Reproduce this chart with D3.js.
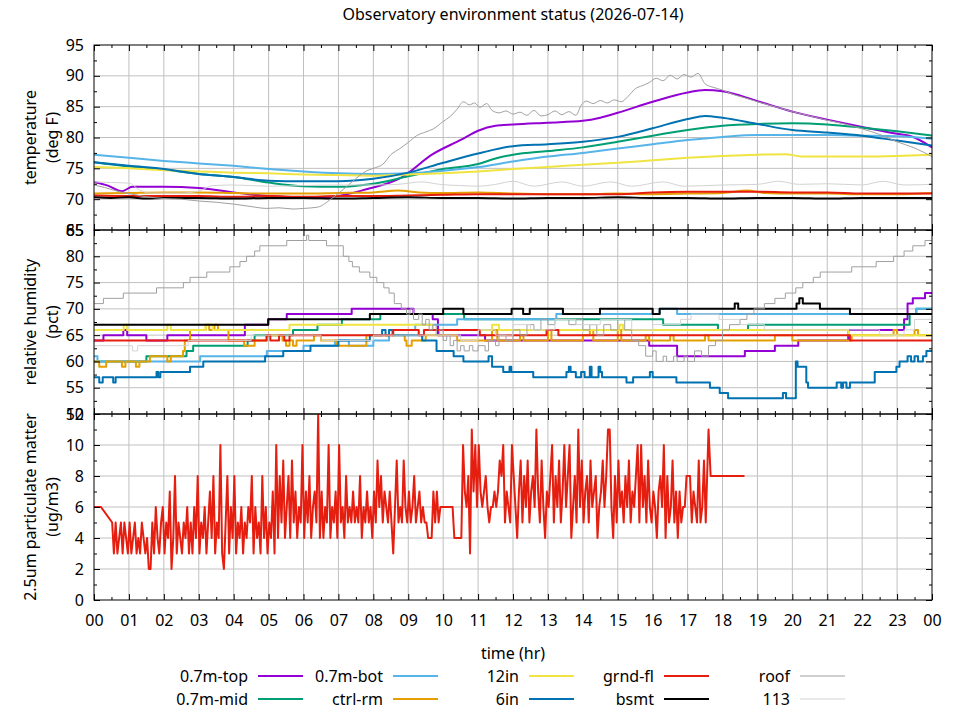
<!DOCTYPE html>
<html>
<head>
<meta charset="utf-8">
<script src="https://cdn.jsdelivr.net/npm/d3@7/dist/d3.min.js"></script>
<style>
  body { margin: 0; background: #fff; }
  text { font-family: "Noto Sans", sans-serif; fill: #000; }
</style>
</head>
<body>
<script>
// ---- tick labels ----
var hourLabels = ["00","01","02","03","04","05","06","07","08","09","10","11","12",
                  "13","14","15","16","17","18","19","20","21","22","23","00"];
var tempTicks = [65, 70, 75, 80, 85, 90, 95];
var rhTicks = [50, 55, 60, 65, 70, 75, 80, 85];
var pmTicks = [0, 2, 4, 6, 8, 10, 12];

// ---- temperature (deg F), [hour, value] ----
var tempTop = [[0,72.8],[0.4,72.2],[0.8,71.3],[1.1,72.0],[2,72.0],[3,71.8],[3.5,71.5],[4,71.1],[5,70.5],[6,70.3],[6.8,70.4],
  [7.8,71.6],[8.8,73.5],[9.7,77.3],[10.5,79.6],[11,81.1],[11.5,81.9],[12,82.1],[13,82.4],[14,82.7],[14.5,83.2],[15,84.0],
  [16,85.8],[17,87.3],[17.5,87.7],[18,87.5],[19,85.9],[20,84.2],[21,82.9],[22,81.7],[23,80.6],[23.4,80.2],[24,78.4]];
var tempMid = [[0,76.0],[1,75.3],[2,74.8],[3,74.1],[4,73.6],[5,72.7],[6,72.1],[7,72.0],[8,72.5],[9,73.7],[10,74.9],[11,75.7],
  [11.5,76.6],[12,77.2],[13,77.8],[14,78.4],[15,79.3],[16,80.3],[17,81.2],[18,81.9],[19,82.2],[20,82.3],[21,82.1],[22,81.6],
  [23,81.0],[24,80.3]];
var tempBot = [[0,77.2],[1,76.7],[2,76.2],[3,75.8],[4,75.4],[5,74.9],[6,74.5],[7,74.2],[8,74.1],[9,74.2],[10,74.6],[11,75.2],
  [12,76.1],[13,76.9],[14,77.5],[15,78.2],[16,78.9],[17,79.6],[18,80.1],[19,80.4],[20,80.4],[21,80.4],[22,80.3],[23,80.2],[24,79.8]];
var tempCtrl = [[0,70.9],[1,71.0],[2,71.1],[3,71.1],[4,71.0],[5,70.9],[6,70.9],[7,71.0],[8,71.1],[8.7,71.4],[9.3,71.1],[10,71.0],
  [11,71.1],[12,70.9],[13,70.8],[14,70.8],[15,70.9],[16,70.8],[17,70.9],[18,71.0],[18.7,71.4],[19.2,71.0],[20,70.9],[21,70.9],
  [22,70.8],[23,70.8],[24,71.0]];
var temp12in = [[0,75.2],[1,75.0],[2,74.7],[3,74.5],[4,74.3],[5,74.2],[6,74.0],[7,73.9],[8,73.8],[9,74.0],[10,74.2],[11,74.5],
  [12,74.9],[13,75.2],[14,75.6],[15,75.9],[16,76.3],[17,76.7],[18,77.0],[19,77.2],[19.8,77.3],[20.3,76.9],[21,76.9],[22,76.9],
  [23,77.0],[24,77.2]];
var temp6in = [[0,76.0],[1,75.4],[2,74.9],[3,74.1],[4,73.6],[5,73.0],[6,72.9],[7,72.9],[8,73.3],[9,74.3],[10,75.9],[11,77.4],
  [12,78.6],[13,78.9],[14,79.3],[15,80.1],[16,81.5],[17,83.0],[17.5,83.5],[18,83.2],[19,82.2],[20,81.2],[21,80.8],[22,80.3],
  [23,79.5],[24,78.7]];
var tempGrnd = [[0,70.6],[1,70.5],[2,70.5],[3,70.5],[4,70.4],[5,70.5],[6,70.4],[7,70.5],[8,70.5],[9,70.6],[10,70.7],[11,70.8],
  [12,70.8],[13,70.8],[14,70.8],[15,70.8],[16,71.1],[17,71.2],[18,71.2],[19,71.2],[20,71.1],[21,71.1],[22,70.9],[23,70.9],[24,70.9]];
var tempBsmt = [[0,70.3],[0.5,70.2],[1,70.3],[1.5,70.1],[2,70.2],[3,70.2],[4,70.1],[5,70.2],[6,70.2],[7,70.1],[8,70.2],[9,70.3],
  [10,70.2],[11,70.2],[12,70.1],[13,70.2],[14,70.2],[15,70.3],[16,70.2],[17,70.2],[18,70.1],[19,70.2],[20,70.2],[21,70.1],
  [22,70.2],[23,70.2],[24,70.2]];
var tempRoof = [[0,72.3],[0.3,71.9],[0.6,71.4],[0.9,71.0],[1.2,70.7],[1.5,70.4],[2.0,70.1],[2.5,70.0],[3.0,69.7],[3.5,69.5],
  [4.0,69.2],[4.5,68.8],[4.95,68.5],[5.3,68.6],[5.7,68.4],[6.0,68.5],[6.4,68.7],[6.85,70.3],[7.1,71.4],[7.33,72.5],[7.6,73.8],
  [7.81,74.6],[8.0,75.0],[8.28,75.7],[8.5,77.2],[8.76,78.2],[9.0,79.2],[9.24,80.3],[9.5,80.9],[9.72,81.4],[10.0,82.6],
  [10.2,83.4],[10.4,84.6],[10.58,85.8],[10.75,85.3],[10.9,85.6],[11.05,84.9],[11.25,85.5],[11.4,84.4],[11.6,84.0],[11.8,84.3],
  [12.0,83.8],[12.2,84.1],[12.4,83.6],[12.6,84.4],[12.8,83.5],[13.0,83.7],[13.2,84.3],[13.4,83.7],[13.6,84.2],[13.8,83.6],
  [13.95,85.2],[14.1,85.9],[14.3,85.5],[14.5,86.0],[14.7,85.6],[14.9,86.1],[15.1,85.8],[15.3,86.7],[15.5,87.9],[15.7,88.4],
  [15.9,88.9],[16.1,89.6],[16.3,89.2],[16.5,90.1],[16.7,89.5],[16.9,90.2],[17.1,89.8],[17.3,90.4],[17.5,88.7],[17.7,88.2],
  [18.0,87.7],[18.3,87.0],[18.6,86.5],[19.0,85.8],[19.5,85.0],[20.0,84.2],[20.5,83.5],[21.0,82.8],[21.5,82.2],[22.0,81.4],
  [22.5,80.5],[23.0,79.3],[23.5,78.3],[24,76.9]];
var temp113 = [[0,72.8],[0.5,72.7],[1.0,72.6],[1.3,71.5],[1.6,71.0],[2.5,71.0],[3.0,71.3],[3.4,72.2],[4,72.3],[5,72.1],[6,72.2],
  [7,72.3],[8,72.3],[8.7,72.4],[9.4,72.8],[9.9,72.4],[10.5,72.2],[11,72.1],[11.5,72.4],[12,72.9],[12.6,72.1],[13.4,72.8],
  [14,72.1],[14.8,72.8],[15.4,72.1],[16.3,72.8],[16.9,72.1],[18,72.3],[19,72.4],[19.6,72.9],[20.2,72.4],[21,72.5],[22,72.3],
  [22.6,72.9],[23.2,72.3],[24,72.4]];

// ---- relative humidity (pct), step changes [hour, value] ----
var rhTop = [[0,64],[0.27,65],[0.84,66],[0.95,65],[1.5,64],[2.1,65],[4.32,67],[4.99,68],[5.52,69],[7.38,70],[9.15,69],[9.7,68],
  [9.85,65],[11.2,64],[15.9,63],[16.7,61],[18.64,62],[19.5,63],[20.17,64],[21.6,66],[23.2,68],[23.3,71],[23.45,72],[23.8,73],[24,73]];
var rhMid = [[0,60],[1.5,61],[2.65,62],[2.84,63],[4.4,64],[4.6,65],[5.7,66],[6.4,67],[7.1,68],[8.2,69],[10.6,68],[16.3,67],
  [17.87,66],[18.73,67],[23.36,69],[23.55,70],[24,70]];
var rhBot = [[0,61],[0.1,60],[3.04,61],[4.95,62],[6.0,63],[6.9,64],[7.3,63],[8.0,64],[8.45,66],[9.2,67],[10.4,68],[13.24,69],
  [16.2,70],[16.7,69],[23.55,70],[24,70]];
var rhCtrl = [[0,60],[0.15,59],[0.35,60],[0.8,59],[0.9,60],[1.2,59],[1.3,60],[1.6,61],[2.1,60],[2.2,61],[2.55,62],[2.6,64],
  [2.75,66],[3.2,67],[3.3,66],[3.45,67],[3.55,66],[3.85,64],[4.3,63],[4.6,64],[4.95,65],[5.4,64],[5.5,63],[5.6,64],[5.7,63],
  [5.8,64],[6.3,65],[6.5,64],[6.95,63],[7.8,65],[8.9,64],[8.95,63],[9.1,64],[9.5,65],[10.4,64],[11.4,66],[11.55,64],[12.2,65],
  [12.3,64],[13.0,66],[13.1,64],[14.0,65],[14.2,66],[14.3,64],[15.0,66],[15.1,64],[15.8,65],[15.9,64],[16.5,65],[16.6,64],
  [17.5,65],[17.6,64],[19.5,65],[20.0,64],[21.7,65],[22.9,66],[23.0,65],[23.5,66],[23.6,65],[24,65]];
var rh12in = [[0,66],[0.85,67],[0.95,66],[2.1,67],[2.2,66],[3.2,67],[3.4,66],[5.6,67],[9.7,66],[11.4,67],[11.6,66],[15.05,67],
  [15.15,66],[21.6,65],[24,65]];
var rh6in = [[0,57],[0.15,56],[0.25,57],[0.55,56],[0.62,57],[1.79,58],[1.84,57],[1.9,58],[2.75,59],[3.13,60],[4.9,61],[5.42,62],
  [6.2,63],[7.0,64],[7.9,65],[8.25,66],[8.35,65],[8.45,66],[8.55,65],[9.4,64],[9.81,62],[10.3,61],[10.58,60],[11.3,61],[11.4,59],
  [11.72,58],[11.9,59],[11.95,58],[12.58,57],[13.53,58],[13.6,59],[13.65,58],[13.8,57],[13.95,58],[14.05,57],[14.2,59],
  [14.25,57],[14.45,59],[14.5,58],[14.55,57],[15.25,56],[15.44,57],[15.92,58],[16.0,57],[16.68,56],[17.64,55],[17.92,54],
  [18.16,53],[19.73,54],[19.82,53],[20.1,60],[20.15,59],[20.4,56],[20.45,55],[21.27,56],[21.4,55],[21.45,56],[21.55,55],
  [21.65,56],[22.36,58],[22.98,59],[23.07,60],[23.3,61],[23.4,60],[23.5,61],[23.6,60],[23.74,61],[23.84,62],[24,62]];
var rhGrnd = [[0,64],[4.94,65],[5.05,64],[5.3,65],[5.45,64],[5.6,65],[8.57,66],[9.3,65],[9.45,66],[11.05,65],[12.96,66],
  [13.3,65],[21.65,64],[24,64]];
var rhBsmt = [[0,67],[4.99,68],[7.9,69],[10.0,70],[10.58,69],[11.96,70],[12.29,69],[12.48,70],[13.43,69],[14.49,70],[16.0,69],
  [16.2,70],[18.35,71],[18.45,70],[20.12,71],[20.2,72],[20.3,71],[20.79,70],[21.65,69],[24,69]];
var rhRoof = [[0,71],[0.27,72],[0.84,73],[1.79,74],[2.56,75],[2.75,76],[3.23,77],[3.89,78],[4.18,79],[4.37,80],[4.6,81],[4.75,82],
  [5.52,83],[6.09,84],[6.15,83],[6.66,82],[7.14,80],[7.3,79],[7.4,78],[7.6,77],[7.9,76],[8.1,75],[8.3,74],[8.45,73],[8.6,71],
  [8.8,70],[8.95,69],[9.05,70],[9.15,68],[9.3,69],[9.4,67],[9.5,68],[9.6,66],[9.7,67],[9.8,65],[9.9,66],[10.0,64],[10.1,65],
  [10.2,63],[10.3,64],[10.4,62],[10.5,63],[10.6,62],[10.75,63],[10.85,62],[11.0,63],[11.2,62],[11.3,64],[11.5,63],[11.6,65],
  [11.8,64],[12.0,66],[12.2,65],[12.4,67],[12.6,66],[12.8,68],[13.0,67],[13.2,68],[13.6,67],[13.8,68],[14.0,66],[14.2,67],
  [14.4,65],[14.6,67],[14.8,66],[15.0,68],[15.2,66],[15.4,64],[15.6,63],[15.8,61],[16.0,62],[16.1,60],[16.3,61],[16.4,60],
  [16.6,61],[16.7,60],[16.9,61],[17.0,60],[17.2,62],[17.4,61],[17.6,63],[17.8,64],[18.0,66],[18.2,67],[18.5,68],[18.7,69],
  [18.9,70],[19.2,71],[19.5,72],[19.8,73],[20.1,74],[20.3,75],[20.6,76],[20.8,77],[21.7,78],[22.4,79],[22.9,80],[23.2,81],
  [23.45,82],[23.8,83],[24,83]];
var rh113 = [[0,63],[1.1,62],[1.25,63],[2.7,64],[4.5,65],[6.5,64],[8.0,65],[10.5,64],[11.0,66],[11.5,65],[12.0,67],[12.5,66],
  [13.2,68],[13.8,67],[14.5,68],[15.4,66],[16.0,67],[16.8,68],[17.1,69],[17.9,68],[18.5,67],[19.2,66],[22.5,65],[23.2,66],
  [23.5,68],[24,68]];

// ---- 2.5um particulate matter (ug/m3), grnd-fl, one row per hour ----
var pmHead = [[0,6],[0.2,6]];
var pmStart = 0.52, pmStepMin = 3;
var pmValues = [
  5,3,5,3,4,5,3,5,4,3,5,3,4,5,3,4,3,5,4,3,
  4,2,2,5,3,6,4,3,5,6,3,5,4,7,2,4,8,3,5,4,
  3,5,4,6,3,5,3,6,4,8,3,5,4,6,3,5,7,4,8,3,
  5,4,10,3,2,5,8,3,6,4,8,3,5,4,6,3,5,4,6,5,
  8,3,6,4,5,3,8,4,6,3,5,4,7,3,10,4,8,5,9,4,
  6,8,4,9,5,7,4,6,5,10,4,7,5,8,4,6,7,5,12,4,
  7,4,6,5,10,4,6,5,7,4,10,5,6,4,8,5,6,5,7,5,
  6,5,8,4,6,5,7,5,6,4,7,5,9,6,8,5,7,6,5,7,
  5,3,6,9,5,6,5,9,6,5,7,5,6,8,5,6,7,5,6,5,
  5,4,4,4,7,5,7,5,6,6,6,6,6,6,6,6,4,4,4,4,
  4,10,7,6,8,3,11,7,10,6,10,7,6,7,8,6,5,6,6,7,
  6,7,9,8,10,5,7,6,5,10,8,6,4,7,9,5,8,6,9,5,
  7,8,6,11,7,5,9,6,4,7,6,8,10,5,8,6,9,5,7,10,
  6,8,10,4,6,8,5,11,6,9,5,7,8,5,9,6,7,8,4,6,
  7,9,6,8,11,11,6,4,8,5,9,6,7,5,8,6,9,5,7,6,
  8,10,5,10,6,8,5,9,6,5,7,6,4,7,8,6,10,4,8,5,
  6,9,5,7,4,7,5,6,6,8,8,8,5,7,6,5,9,5,6,9,
  5];
var pmTail = [[17.6,11],[17.66,8],[18.63,8]];

// ---- series names ----
var seriesNames = ["0.7m-top","0.7m-mid","0.7m-bot","ctrl-rm","12in","6in","grnd-fl","bsmt","roof","113"];
var seriesColors = ["#9400d3","#009e73","#56b4e9","#e69f00","#f0e442","#0072b2","#e51e10","#000000","#a0a0a0","#d3d3d3"];
var seriesWidths = [2,2,2,2,2,2,2,2,1,1];
var tempSeries = [tempTop,tempMid,tempBot,tempCtrl,temp12in,temp6in,tempGrnd,tempBsmt,tempRoof,temp113];
var rhSeries = [rhTop,rhMid,rhBot,rhCtrl,rh12in,rh6in,rhGrnd,rhBsmt,rhRoof,rh113];

var pmData = pmHead
  .concat(pmValues.map(function(v, i) { return [pmStart + i * pmStepMin / 60, v]; }))
  .concat(pmTail);

// ---- layout ----
var width = 960, height = 720;
var plotLeft = 94, plotRight = 932;
var fontSize = "16px";

var svg = d3.select("body").append("svg")
  .attr("width", width).attr("height", height)
  .style("font-family", '"Noto Sans", sans-serif');

var x = d3.scaleLinear().domain([0, 24]).range([plotLeft, plotRight]);
var hours = d3.range(0, 25);
var halfHours = d3.range(0.5, 24, 1);

svg.append("text")
  .attr("x", (plotLeft + plotRight) / 2).attr("y", 20)
  .attr("text-anchor", "middle").style("font-size", fontSize)
  .text("Observatory environment status (2026-07-14)");

function drawPanel(id, top, bottom, domain, ticks, minorStep, labels, lines, curve, showX) {
  var y = d3.scaleLinear().domain(domain).range([bottom, top]);
  var g = svg.append("g");
  var minors = d3.range(domain[0] + minorStep, domain[1], minorStep)
    .filter(function(v) { return ticks.indexOf(v) < 0; });

  // grid
  g.selectAll(".gx").data(hours.slice(1, -1)).enter().append("line")
    .attr("x1", function(d) { return x(d); }).attr("x2", function(d) { return x(d); })
    .attr("y1", top).attr("y2", bottom)
    .attr("stroke", "#c0c0c0").attr("stroke-width", 1);
  g.selectAll(".gy").data(ticks.slice(1, -1)).enter().append("line")
    .attr("x1", plotLeft).attr("x2", plotRight)
    .attr("y1", function(d) { return y(d); }).attr("y2", function(d) { return y(d); })
    .attr("stroke", "#c0c0c0").attr("stroke-width", 1);

  // data
  svg.append("clipPath").attr("id", "clip" + id).append("rect")
    .attr("x", plotLeft).attr("y", top).attr("width", plotRight - plotLeft).attr("height", bottom - top);
  var line = d3.line().x(function(d) { return x(d[0]); }).y(function(d) { return y(d[1]); }).curve(curve);
  var dg = g.append("g").attr("clip-path", "url(#clip" + id + ")");
  lines.forEach(function(s) {
    dg.append("path").datum(s.data)
      .attr("fill", "none").attr("stroke", s.color).attr("stroke-width", s.width)
      .attr("stroke-linejoin", "round")
      .attr("d", line);
  });

  // axes with inward ticks
  var ax = g.append("g");
  ax.append("g").attr("transform", "translate(" + plotLeft + ",0)")
    .call(d3.axisLeft(y).tickValues(ticks).tickSize(-6).tickSizeOuter(0).tickPadding(10));
  ax.append("g").attr("transform", "translate(" + plotLeft + ",0)")
    .call(d3.axisLeft(y).tickValues(minors).tickSize(-3).tickSizeOuter(0).tickFormat(""));
  ax.append("g").attr("transform", "translate(" + plotRight + ",0)")
    .call(d3.axisRight(y).tickValues(ticks).tickSize(-6).tickSizeOuter(0).tickFormat(""));
  ax.append("g").attr("transform", "translate(" + plotRight + ",0)")
    .call(d3.axisRight(y).tickValues(minors).tickSize(-3).tickSizeOuter(0).tickFormat(""));
  ax.append("g").attr("transform", "translate(0," + top + ")")
    .call(d3.axisTop(x).tickValues(hours).tickSize(-6).tickSizeOuter(0).tickFormat(""));
  ax.append("g").attr("transform", "translate(0," + top + ")")
    .call(d3.axisTop(x).tickValues(halfHours).tickSize(-3).tickSizeOuter(0).tickFormat(""));
  ax.append("g").attr("transform", "translate(0," + bottom + ")")
    .call(d3.axisBottom(x).tickValues(hours).tickSize(-6).tickSizeOuter(0).tickPadding(15)
      .tickFormat(function(d, i) { return showX ? hourLabels[i] : ""; }));
  ax.append("g").attr("transform", "translate(0," + bottom + ")")
    .call(d3.axisBottom(x).tickValues(halfHours).tickSize(-3).tickSizeOuter(0).tickFormat(""));
  ax.selectAll(".domain").remove();
  ax.selectAll("text").style("font-size", fontSize).style("font-family", '"Noto Sans", sans-serif').attr("fill", "#000");
  ax.selectAll("line").attr("stroke", "#000");

  g.append("rect").attr("x", plotLeft).attr("y", top)
    .attr("width", plotRight - plotLeft).attr("height", bottom - top)
    .attr("fill", "none").attr("stroke", "#000").attr("stroke-width", 1);

  // y label (two lines, rotated)
  var cy = (top + bottom) / 2;
  [[30, labels[0]], [52, labels[1]]].forEach(function(l) {
    svg.append("text")
      .attr("transform", "translate(" + l[0] + "," + cy + ") rotate(-90)")
      .attr("text-anchor", "middle").attr("dy", "0.35em")
      .style("font-size", fontSize).text(l[1]);
  });
}

function seriesLines(dataList) {
  return dataList.map(function(d, i) {
    return { data: d, color: seriesColors[i], width: seriesWidths[i] };
  });
}

drawPanel("t", 45, 230, [65, 95], tempTicks, 2.5, ["temperature", "(deg F)"],
  seriesLines(tempSeries), d3.curveMonotoneX, false);
drawPanel("h", 230, 414, [50, 85], rhTicks, 2.5, ["relative humidity", "(pct)"],
  seriesLines(rhSeries), d3.curveStepAfter, false);
drawPanel("p", 414, 600, [0, 12], pmTicks, 1, ["2.5um particulate matter", "(ug/m3)"],
  [{ data: pmData, color: seriesColors[6], width: 2 }], d3.curveLinear, true);

svg.append("text")
  .attr("x", (plotLeft + plotRight) / 2).attr("y", 659)
  .attr("text-anchor", "middle").style("font-size", fontSize)
  .text("time (hr)");

// legend: 5 columns x 2 rows, filled column-wise
var legendColEnd = [248, 383, 519, 654, 790];
var legendRowY = [676, 699];
var legend = svg.append("g");
seriesNames.forEach(function(name, i) {
  var cx = legendColEnd[Math.floor(i / 2)], ry = legendRowY[i % 2];
  legend.append("text").attr("x", cx).attr("y", ry).attr("dy", "0.35em")
    .attr("text-anchor", "end").style("font-size", fontSize).text(name);
  legend.append("line").attr("x1", cx + 10).attr("x2", cx + 55)
    .attr("y1", ry).attr("y2", ry)
    .attr("stroke", seriesColors[i]).attr("stroke-width", seriesWidths[i]);
});
</script>
</body>
</html>
